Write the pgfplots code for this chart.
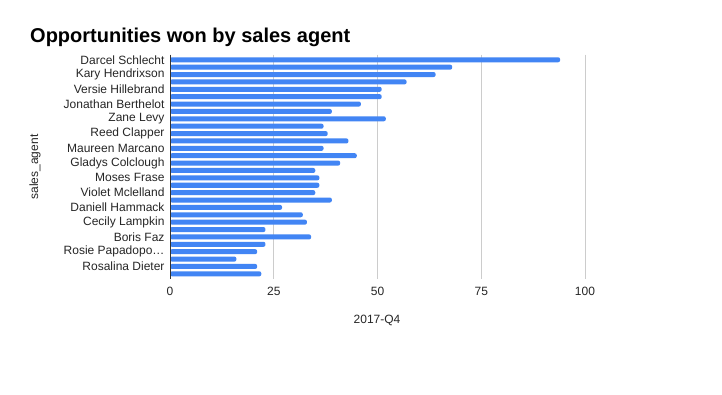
\documentclass[border=0pt]{standalone}
\usepackage{fontspec}
\setmainfont{Liberation Sans}
\usepackage{pgfplots}
\pgfplotsset{compat=1.18}
\definecolor{barblue}{HTML}{4285F4}
\definecolor{gridgray}{HTML}{CCCCCC}
\definecolor{axisdark}{HTML}{333333}
\begin{document}
\begin{tikzpicture}
\path[use as bounding box, fill=white] (0,0) rectangle (722pt,395pt);
\node[anchor=base west, inner sep=0pt, font=\fontsize{20}{24}\selectfont\bfseries] at (30pt,352.5pt) {Opportunities won by sales agent};
\begin{axis}[
  at={(170pt,116pt)}, anchor=south west,
  scale only axis, width=415pt, height=224.4pt,
  xmin=0, xmax=100, ymin=-0.7, ymax=29.7,
  y dir=reverse,
  xbar, bar width=0.68,
  axis line style={draw=none},
  major tick length=0pt,
  xtick={0,25,50,75,100},
  xmajorgrids, grid style={gridgray, line width=0.8pt},
  ytick={0,2,...,28},
  yticklabels={Darcel Schlecht,Kary Hendrixson,Versie Hillebrand,Jonathan Berthelot,Zane Levy,Reed Clapper,Maureen Marcano,Gladys Colclough,Moses Frase,Violet Mclelland,Daniell Hammack,Cecily Lampkin,Boris Faz,Rosie Papadopo…,Rosalina Dieter},
  /pgf/number format/assume math mode=true,
  tick label style={font=\fontsize{12}{14}\selectfont, text=black!85},
  xticklabel style={yshift=-5pt},
  yticklabel style={xshift=-2pt},
  clip=false,
]
\addplot[fill=barblue, draw=none, rounded corners=2pt] coordinates {
(94,0) (68,1) (64,2) (57,3) (51,4) (51,5) (46,6) (39,7) (52,8) (37,9)
(38,10) (43,11) (37,12) (45,13) (41,14) (35,15) (36,16) (36,17) (35,18) (39,19)
(27,20) (32,21) (33,22) (23,23) (34,24) (23,25) (21,26) (16,27) (21,28) (22,29)
};
\draw[axisdark, line width=0.8pt] (axis cs:0,-0.7) -- (axis cs:0,29.7);
\end{axis}
\node[rotate=90, font=\fontsize{12}{14}\selectfont, text=black!85] at (35pt,228pt) {sales\_agent};
\node[font=\fontsize{12}{14}\selectfont, text=black!85] at (377pt,75pt) {2017-Q4};
\end{tikzpicture}
\end{document}
